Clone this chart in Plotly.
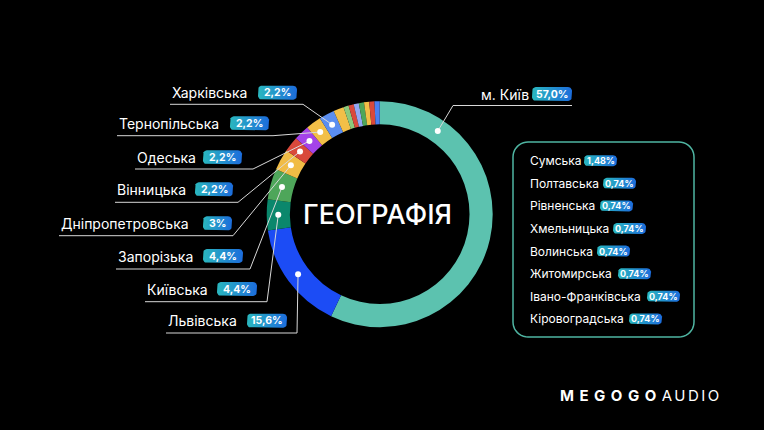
import math
import plotly.graph_objects as go

W, H = 764, 430

# labelled slices, clockwise from 12 o'clock
regions = ["м. Київ", "Львівська", "Київська", "Запорізька", "Дніпропетровська",
           "Вінницька", "Одеська", "Тернопільська", "Харківська"]
shares = [57.0, 15.6, 4.4, 4.4, 3.0, 2.2, 2.2, 2.2, 2.2]
share_text = ["57,0%", "15,6%", "4,4%", "4,4%", "3%", "2,2%", "2,2%", "2,2%", "2,2%"]
colors = ["#5cc2af", "#1c4cf5", "#0a876c", "#4ea65a", "#f1bc45",
          "#d9493b", "#a443e9", "#f2bf48", "#5b8ef0"]

# small slices listed in the box
small_regions = ["Сумська", "Полтавська", "Рівненська", "Хмельницька", "Волинська",
                 "Житомирська", "Івано-Франківська", "Кіровоградська"]
small_shares = [1.48, 0.74, 0.74, 0.74, 0.74, 0.74, 0.74, 0.74]
small_text = ["1,48%", "0,74%", "0,74%", "0,74%", "0,74%", "0,74%", "0,74%", "0,74%"]
small_colors = ["#f2bf48", "#8cc97c", "#d9493b", "#93a8f3",
                "#4ea65a", "#f2bf48", "#d9493b", "#4a7ff2"]

# ring geometry (px)
cx, cy, R, hole = 379.7, 214.2, 113.0, 0.795
r_dot = R * (1 + hole) / 2

# callout layout (px): label text, badge, underline
text_left = [479, 166, 145, 116, 59, 115, 135, 117, 170]
text_y = [94, 320.7, 289, 256, 223.3, 189.3, 157.3, 123.3, 92.7]
badge_x0 = [532, 247, 217, 203, 203, 195, 203, 230, 258]
badge_x1 = [572, 287, 257, 243, 232, 233, 242, 269, 297]
line_y = [105.5, 333, 301.7, 269, 235.7, 202.3, 169, 135.7, 104.3]
line_x0 = [453, 166, 145, 116, 59, 115, 135, 117, 170]
line_x1 = [572, 297, 267, 250, 233, 238, 253, 273, 303]
dot_frac = [0.17, 0.5, 0.5, 0.5, 0.5, 0.5, 0.5, 0.5, 0.5]

# legend box layout
box = (513, 142, 694, 337)
item_y0, item_dy = 160.7, 22.6
small_badge_x0 = [584, 603, 600, 613, 597, 618, 647, 629]

FONT = "Inter"
BADGE_SCALE = [[0, "#2ab7be"], [1, "#1c6cdc"]]


def rounded_pts(x0, y0, x1, y1, r, n=6):
    xs, ys = [], []
    corners = [(x1 - r, y0 + r, -90), (x1 - r, y1 - r, 0),
               (x0 + r, y1 - r, 90), (x0 + r, y0 + r, 180)]
    for ox, oy, a0 in corners:
        for k in range(n + 1):
            a = math.radians(a0 + 90 * k / n)
            xs.append(ox + r * math.cos(a))
            ys.append(oy + r * math.sin(a))
    xs.append(xs[0])
    ys.append(ys[0])
    return xs, ys


def badge(x0, x1, yc, h, label, size):
    xs, ys = rounded_pts(x0, yc - h / 2, x1, yc + h / 2, min(4, h / 2))
    fig.add_trace(go.Scatter(
        x=xs, y=ys, mode="lines", fill="toself", line=dict(width=0),
        fillgradient=dict(type="horizontal", colorscale=BADGE_SCALE),
        hoverinfo="skip", showlegend=False))
    fig.add_annotation(x=(x0 + x1) / 2, y=yc, text=f"<b>{label}</b>", showarrow=False,
                       xanchor="center", yanchor="middle",
                       font=dict(family=FONT, size=size, color="white"))


all_labels = regions + small_regions
all_values = shares + small_shares
all_colors = colors + small_colors

fig = go.Figure()
fig.add_trace(go.Pie(
    labels=all_labels, values=all_values, sort=False, direction="clockwise",
    rotation=0, hole=hole, textinfo="none", hoverinfo="label+value",
    marker=dict(colors=all_colors, line=dict(width=0)),
    domain=dict(x=[(cx - R) / W, (cx + R) / W], y=[1 - (cy + R) / H, 1 - (cy - R) / H]),
    showlegend=False))

shapes = []
total = sum(all_values)
cum = 0.0
for i, name in enumerate(regions):
    ang = math.radians(360 * (cum + dot_frac[i] * shares[i]) / total)
    cum += shares[i]
    dx, dy = cx + r_dot * math.sin(ang), cy - r_dot * math.cos(ang)
    elbow = line_x0[i] if i == 0 else line_x1[i]
    line = dict(color="#d8d8d8", width=1)
    shapes.append(dict(type="line", xref="x", yref="y", x0=line_x0[i], x1=line_x1[i],
                       y0=line_y[i], y1=line_y[i], line=line, layer="above"))
    shapes.append(dict(type="line", xref="x", yref="y", x0=elbow, y0=line_y[i],
                       x1=dx, y1=dy, line=line, layer="above"))
    shapes.append(dict(type="circle", xref="x", yref="y", x0=dx - 3, x1=dx + 3,
                       y0=dy - 3, y1=dy + 3, fillcolor="white", line=dict(width=0),
                       layer="above"))
    fig.add_annotation(x=text_left[i], y=text_y[i], text=name, showarrow=False,
                       xanchor="left", yanchor="middle",
                       font=dict(family=FONT, size=14, color="white"))
    badge(badge_x0[i], badge_x1[i], text_y[i], 14, share_text[i], 10.5)

# legend box
bx, by = rounded_pts(*box, 15, n=10)
path = "M " + " L ".join(f"{x:.1f},{y:.1f}" for x, y in zip(bx, by)) + " Z"
shapes.append(dict(type="path", xref="x", yref="y", path=path,
                   line=dict(color="#4fb5a2", width=1.5), layer="above"))
for i, name in enumerate(small_regions):
    yc = item_y0 + item_dy * i
    fig.add_annotation(x=528, y=yc, text=name, showarrow=False, xanchor="left",
                       yanchor="middle", font=dict(family=FONT, size=12, color="white"))
    badge(small_badge_x0[i], small_badge_x0[i] + 33, yc, 11, small_text[i], 9)

# centre title and logo
fig.add_annotation(x=cx - 2, y=cy, text="ГЕОГРАФІЯ", showarrow=False,
                   font=dict(family=FONT, size=27, color="white", weight=500))
fig.add_annotation(x=558, y=395, xanchor="left", yanchor="middle", showarrow=False,
                   text='<b><span style="letter-spacing:5.5px">MEGOGO</span></b>'
                        '<span style="letter-spacing:2.5px">AUDIO</span>',
                   font=dict(family=FONT, size=15, color="white"))

fig.update_layout(
    width=W, height=H, margin=dict(l=0, r=0, t=0, b=0),
    paper_bgcolor="black", plot_bgcolor="black", shapes=shapes,
    xaxis=dict(range=[0, W], visible=False, fixedrange=True),
    yaxis=dict(range=[H, 0], visible=False, fixedrange=True),
)

fig.write_html("out.html", config={"displayModeBar": False},
               post_script="document.body.style.margin='0';")
